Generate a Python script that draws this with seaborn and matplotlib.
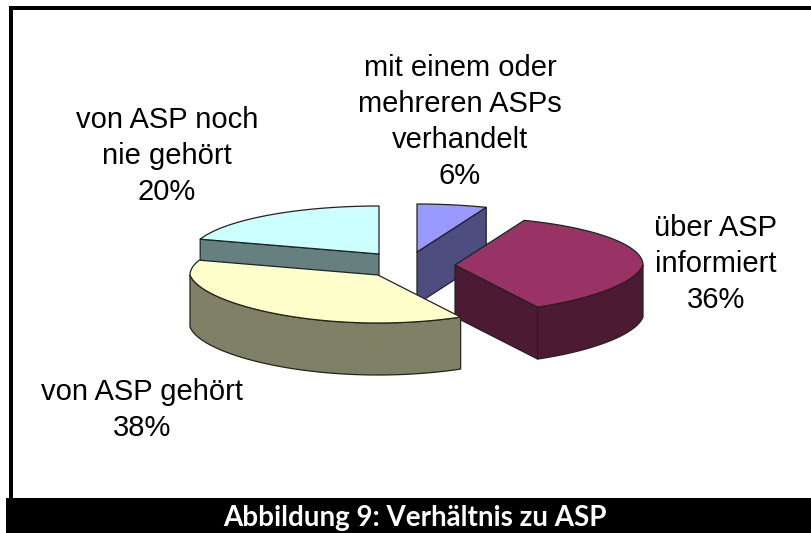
import numpy as np
import matplotlib
matplotlib.use('Agg')
import matplotlib.pyplot as plt
import seaborn as sns

# values and labels, clockwise from 12 o'clock
labels = ['mit einem oder\nmehreren ASPs\nverhandelt', 'über ASP\ninformiert', 'von ASP gehört', 'von ASP noch\nnie gehört']
values = [6, 36, 38, 20]
top_colors = ['#9999FF', '#993366', '#FFFFCC', '#CCFFFF']
title = 'Abbildung 9: Verhältnis zu ASP'

# layout in pixels
apex = [(417, 252), (455, 265), (378, 275), (379, 254)]
label_pos = [(460, 122), (716, 264), (142, 410), (167, 156)]
draw_order = [3, 0, 1, 2]
rx, ry, depth = 188, 48, 52

sns.set_theme(style='white')
plt.rcParams['font.family'] = ['Liberation Sans', 'DejaVu Sans']

fig, ax = plt.subplots(figsize=(8.11, 5.33), dpi=100)
ax.set_position([0, 0, 1, 1])
ax.set_xlim(0, 811)
ax.set_ylim(533, 0)
ax.axis('off')

palette = sns.color_palette(top_colors)
edges = np.cumsum([0] + values) / sum(values) * 2 * np.pi

def arc(cx, cy, a, b):
    t = np.linspace(a, b, 80)
    # front of the pie is drawn a little narrower, like the 3D view in the original
    squeeze = 1 - 0.1 * np.clip(-np.cos(t), 0, 1)
    return cx + rx * np.sin(t) * squeeze, cy - ry * np.cos(t)

line = dict(edgecolor='#222222', linewidth=0.9, joinstyle='round')
for i in draw_order:
    cx, cy = apex[i]
    a, b = edges[i], edges[i + 1]
    side = tuple(c * 0.5 for c in palette[i])
    x, y = arc(cx, cy, a, b)
    # only the faces turned towards the viewer
    for k, show in ((0, np.sin(a) < -1e-6), (-1, np.sin(b) > 1e-6)):
        if show:
            ax.fill([cx, x[k], x[k], cx], [cy, y[k], y[k] + depth, cy + depth], facecolor=side, **line)
    lo, hi = max(a, np.pi / 2), min(b, 3 * np.pi / 2)
    if lo < hi:
        rim_x, rim_y = arc(cx, cy, lo, hi)
        ax.fill(np.r_[rim_x, rim_x[::-1]], np.r_[rim_y, rim_y[::-1] + depth], facecolor=side, **line)
    ax.fill(np.r_[cx, x], np.r_[cy, y], facecolor=palette[i], **line)

for lab, val, pos in zip(labels, values, label_pos):
    ax.text(pos[0], pos[1], f'{lab}\n{val}%', ha='center', va='center', fontsize=21,
            color='black', linespacing=1.35)

# frame and caption bar
ax.fill([9, 13, 13, 9], [6, 6, 500, 500], color='black', lw=0)
ax.fill([9, 811, 811, 9], [6, 6, 10, 10], color='black', lw=0)
ax.fill([6, 811, 811, 6], [498, 498, 533, 533], color='black', lw=0)
ax.text(415, 518, title, ha='center', va='center', color='white', fontsize=20,
        fontweight='bold', family=['Lato', 'DejaVu Sans'])

fig.savefig('out.png', dpi=100)
